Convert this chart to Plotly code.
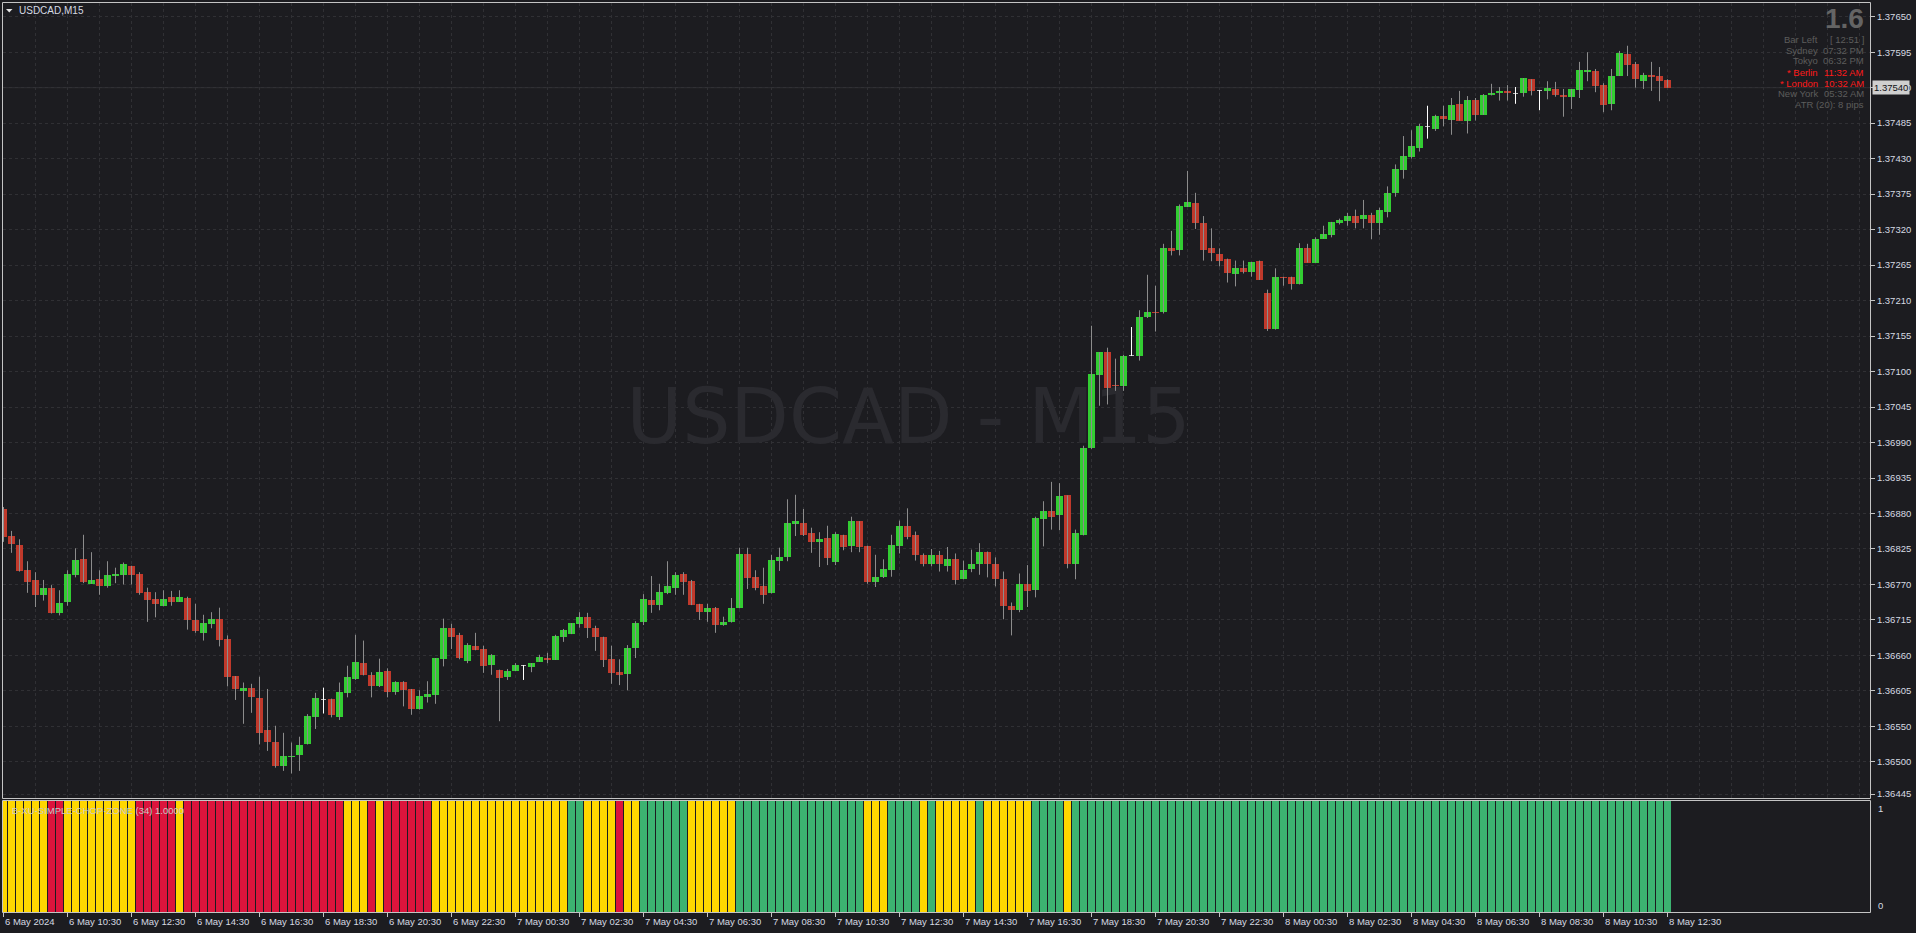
import plotly.graph_objects as go

W, H = 1916, 933
BG = "#1c1c20"
GRID = "#303034"
FRAME = "#c4c4c4"
TXT = "#d6dae2"
FONT = "Liberation Sans"

# ---------------- data (USDCAD M15, 6 May 08:30 -> 8 May 12:30) ----------------
opens = [
 1.36887,1.36845,1.36831,1.36792,1.36777,1.36754,1.36764,1.36725,1.36743,1.36784,
 1.36809,1.36771,1.36778,1.36767,1.36783,1.36785,1.36799,1.36786,1.36758,1.36747,
 1.36737,1.36751,1.36743,1.36749,1.36715,1.36695,1.36708,1.36716,1.36685,1.36628,
 1.36605,1.36610,1.36594,1.36544,1.36526,1.36489,1.36502,1.36505,1.36523,1.36565,
 1.36592,1.36592,1.36565,1.36602,1.36624,1.36648,1.36630,1.36612,1.36636,1.36604,
 1.36619,1.36608,1.36577,1.36596,1.36599,1.36655,1.36703,1.36692,1.36651,1.36675,
 1.36670,1.36645,1.36637,1.36627,1.36636,1.36644,1.36642,1.36650,1.36656,1.36653,
 1.36689,1.36693,1.36709,1.36720,1.36703,1.36689,1.36654,1.36634,1.36631,1.36672,
 1.36712,1.36746,1.36738,1.36757,1.36765,1.36786,1.36775,1.36740,1.36727,1.36734,
 1.36707,1.36712,1.36734,1.36817,1.36782,1.36768,1.36757,1.36806,1.36813,1.36864,
 1.36865,1.36850,1.36836,1.36842,1.36805,1.36847,1.36830,1.36868,1.36830,1.36774,
 1.36781,1.36793,1.36830,1.36860,1.36846,1.36815,1.36802,1.36815,1.36799,1.36809,
 1.36778,1.36794,1.36801,1.36821,1.36801,1.36778,1.36736,1.36731,1.36770,1.36761,
 1.36872,1.36884,1.36877,1.36908,1.36801,1.36847,1.36981,1.37094,1.37130,1.37079,
 1.37077,1.37125,1.37124,1.37184,1.37192,1.37192,1.37292,1.37288,1.37355,1.37361,
 1.37330,1.37291,1.37282,1.37275,1.37251,1.37260,1.37254,1.37271,1.37222,1.37166,
 1.37247,1.37247,1.37235,1.37291,1.37269,1.37306,1.37311,1.37331,1.37334,1.37341,
 1.37336,1.37343,1.37331,1.37348,1.37376,1.37413,1.37433,1.37447,1.37480,1.37476,
 1.37496,1.37490,1.37515,1.37489,1.37521,1.37498,1.37528,1.37531,1.37535,1.37531,
 1.37531,1.37553,1.37536,1.37535,1.37538,1.37529,1.37526,1.37536,1.37564,1.37566,
 1.37544,1.37515,1.37558,1.37592,1.37577,1.37550,1.37560,1.37558,1.37552,
]
highs = [
 1.36890,1.36853,1.36840,1.36806,1.36789,1.36777,1.36769,1.36761,1.36792,1.36826,
 1.36847,1.36820,1.36792,1.36806,1.36796,1.36804,1.36799,1.36789,1.36765,1.36758,
 1.36761,1.36760,1.36761,1.36751,1.36740,1.36723,1.36727,1.36734,1.36691,1.36628,
 1.36618,1.36616,1.36627,1.36608,1.36551,1.36540,1.36525,1.36534,1.36569,1.36602,
 1.36610,1.36593,1.36618,1.36644,1.36692,1.36683,1.36634,1.36655,1.36640,1.36620,
 1.36620,1.36608,1.36606,1.36620,1.36656,1.36717,1.36709,1.36695,1.36679,1.36695,
 1.36675,1.36662,1.36638,1.36639,1.36648,1.36645,1.36648,1.36661,1.36664,1.36692,
 1.36701,1.36710,1.36727,1.36726,1.36706,1.36689,1.36675,1.36654,1.36676,1.36713,
 1.36755,1.36783,1.36771,1.36806,1.36789,1.36789,1.36777,1.36740,1.36740,1.36735,
 1.36720,1.36749,1.36827,1.36827,1.36792,1.36796,1.36816,1.36827,1.36902,1.36909,
 1.36887,1.36858,1.36851,1.36861,1.36851,1.36847,1.36875,1.36868,1.36830,1.36816,
 1.36809,1.36847,1.36869,1.36888,1.36852,1.36818,1.36825,1.36822,1.36828,1.36818,
 1.36807,1.36824,1.36834,1.36821,1.36812,1.36790,1.36742,1.36787,1.36800,1.36875,
 1.36899,1.36929,1.36927,1.36908,1.36855,1.36985,1.37171,1.37130,1.37137,1.37120,
 1.37126,1.37169,1.37195,1.37250,1.37233,1.37298,1.37318,1.37359,1.37411,1.37377,
 1.37341,1.37322,1.37291,1.37275,1.37272,1.37272,1.37270,1.37272,1.37227,1.37260,
 1.37247,1.37247,1.37299,1.37298,1.37308,1.37326,1.37332,1.37337,1.37346,1.37351,
 1.37366,1.37346,1.37354,1.37387,1.37421,1.37465,1.37474,1.37484,1.37512,1.37498,
 1.37512,1.37524,1.37535,1.37527,1.37524,1.37530,1.37546,1.37541,1.37544,1.37541,
 1.37555,1.37553,1.37536,1.37550,1.37549,1.37538,1.37538,1.37580,1.37595,1.37569,
 1.37547,1.37569,1.37597,1.37605,1.37580,1.37563,1.37580,1.37572,1.37553,
]
lows = [
 1.36836,1.36819,1.36790,1.36757,1.36735,1.36745,1.36725,1.36722,1.36737,1.36781,
 1.36772,1.36771,1.36754,1.36765,1.36772,1.36770,1.36770,1.36754,1.36712,1.36719,
 1.36736,1.36737,1.36743,1.36700,1.36695,1.36683,1.36702,1.36674,1.36612,1.36591,
 1.36554,1.36571,1.36522,1.36512,1.36486,1.36481,1.36477,1.36481,1.36522,1.36546,
 1.36570,1.36564,1.36560,1.36595,1.36622,1.36629,1.36595,1.36611,1.36595,1.36599,
 1.36581,1.36568,1.36576,1.36587,1.36585,1.36643,1.36670,1.36654,1.36648,1.36668,
 1.36633,1.36630,1.36558,1.36622,1.36636,1.36622,1.36634,1.36650,1.36648,1.36653,
 1.36681,1.36693,1.36703,1.36687,1.36667,1.36642,1.36616,1.36614,1.36606,1.36656,
 1.36707,1.36726,1.36730,1.36755,1.36754,1.36754,1.36738,1.36715,1.36712,1.36695,
 1.36706,1.36711,1.36733,1.36763,1.36761,1.36740,1.36756,1.36791,1.36806,1.36845,
 1.36845,1.36819,1.36797,1.36800,1.36800,1.36823,1.36820,1.36820,1.36771,1.36766,
 1.36780,1.36782,1.36818,1.36840,1.36807,1.36798,1.36798,1.36790,1.36790,1.36770,
 1.36778,1.36789,1.36785,1.36781,1.36767,1.36716,1.36691,1.36727,1.36735,1.36750,
 1.36829,1.36855,1.36854,1.36795,1.36778,1.36846,1.36980,1.37047,1.37049,1.37070,
 1.37070,1.37124,1.37117,1.37183,1.37162,1.37190,1.37280,1.37280,1.37355,1.37321,
 1.37272,1.37271,1.37263,1.37238,1.37232,1.37252,1.37247,1.37242,1.37163,1.37165,
 1.37233,1.37227,1.37235,1.37269,1.37269,1.37306,1.37308,1.37328,1.37326,1.37322,
 1.37322,1.37305,1.37312,1.37339,1.37371,1.37399,1.37430,1.37441,1.37461,1.37473,
 1.37480,1.37467,1.37489,1.37469,1.37489,1.37498,1.37528,1.37520,1.37520,1.37515,
 1.37526,1.37528,1.37505,1.37522,1.37526,1.37495,1.37507,1.37524,1.37550,1.37533,
 1.37502,1.37505,1.37558,1.37558,1.37540,1.37538,1.37535,1.37519,1.37540,
]
closes = [
 1.36844,1.36833,1.36791,1.36774,1.36754,1.36764,1.36726,1.36741,1.36786,1.36808,
 1.36774,1.36777,1.36767,1.36785,1.36786,1.36802,1.36785,1.36757,1.36746,1.36739,
 1.36747,1.36743,1.36751,1.36715,1.36698,1.36710,1.36716,1.36684,1.36626,1.36608,
 1.36610,1.36595,1.36540,1.36526,1.36489,1.36504,1.36504,1.36521,1.36566,1.36594,
 1.36592,1.36567,1.36603,1.36627,1.36650,1.36630,1.36613,1.36634,1.36604,1.36619,
 1.36607,1.36577,1.36597,1.36600,1.36656,1.36703,1.36689,1.36656,1.36676,1.36668,
 1.36644,1.36661,1.36625,1.36636,1.36645,1.36644,1.36648,1.36658,1.36653,1.36690,
 1.36699,1.36710,1.36720,1.36703,1.36689,1.36653,1.36633,1.36630,1.36672,1.36710,
 1.36747,1.36738,1.36758,1.36768,1.36785,1.36774,1.36738,1.36727,1.36734,1.36707,
 1.36712,1.36734,1.36817,1.36780,1.36765,1.36754,1.36808,1.36813,1.36865,1.36868,
 1.36847,1.36836,1.36840,1.36811,1.36848,1.36828,1.36868,1.36828,1.36774,1.36782,
 1.36794,1.36831,1.36860,1.36843,1.36815,1.36801,1.36815,1.36801,1.36809,1.36777,
 1.36792,1.36802,1.36821,1.36802,1.36778,1.36736,1.36730,1.36770,1.36760,1.36873,
 1.36884,1.36875,1.36907,1.36802,1.36849,1.36982,1.37096,1.37130,1.37074,1.37077,
 1.37124,1.37125,1.37185,1.37193,1.37190,1.37291,1.37287,1.37357,1.37363,1.37330,
 1.37289,1.37283,1.37272,1.37252,1.37260,1.37254,1.37270,1.37242,1.37166,1.37247,
 1.37245,1.37235,1.37291,1.37269,1.37306,1.37313,1.37332,1.37335,1.37341,1.37331,
 1.37343,1.37331,1.37350,1.37377,1.37414,1.37434,1.37450,1.37481,1.37480,1.37496,
 1.37491,1.37513,1.37489,1.37521,1.37498,1.37529,1.37532,1.37535,1.37531,1.37531,
 1.37555,1.37535,1.37536,1.37540,1.37529,1.37526,1.37538,1.37567,1.37567,1.37543,
 1.37513,1.37558,1.37594,1.37575,1.37553,1.37560,1.37557,1.37550,1.37540,
]

# Chop-zone state per bar: Y = chop (yellow), R = down trend, G = up trend
chop_zone = (
    "YYYYYYRRYY" "YYYYYYYRRR" "RRYRRRRRRR" "RRRRRRRRRR" "RRRYYYRYRR"
    "RRRRYYYYYY" "YYYYYYYYYY" "YGGYYYYRYY" "GGGGGGYYYY" "YYGGGGGGGG"
    "GGGGGGGGYY" "YGGGGYGYYY" "YYGYYYYYYG" "GGGYGGGGGG" "GGGGGGGGGG"
    "GGGGGGGGGG" "GGGGGGGGGG" "GGGGGGGGGG" "GGGGGGGGGG" "GGGGGGGGGG"
    "GGGGGGGGG"
)

x_tick_bars = [0, 8, 16, 24, 32, 40, 48, 56, 64, 72, 80, 88, 96, 104, 112,
               120, 128, 136, 144, 152, 160, 168, 176, 184, 192, 200, 208]
x_tick_labels = ["6 May 2024", "6 May 10:30", "6 May 12:30", "6 May 14:30", "6 May 16:30",
                 "6 May 18:30", "6 May 20:30", "6 May 22:30", "7 May 00:30", "7 May 02:30",
                 "7 May 04:30", "7 May 06:30", "7 May 08:30", "7 May 10:30", "7 May 12:30",
                 "7 May 14:30", "7 May 16:30", "7 May 18:30", "7 May 20:30", "7 May 22:30",
                 "8 May 00:30", "8 May 02:30", "8 May 04:30", "8 May 06:30", "8 May 08:30",
                 "8 May 10:30", "8 May 12:30"]

y_tick_vals = [1.37650, 1.37595, 1.37540, 1.37485, 1.37430, 1.37375, 1.37320, 1.37265,
               1.37210, 1.37155, 1.37100, 1.37045, 1.36990, 1.36935, 1.36880, 1.36825,
               1.36770, 1.36715, 1.36660, 1.36605, 1.36550, 1.36495, 1.36445]
y_tick_text = ["1.37650", "1.37595", "1.37540", "1.37485", "1.37430", "1.37375", "1.37320",
               "1.37265", "1.37210", "1.37155", "1.37100", "1.37045", "1.36990", "1.36935",
               "1.36880", "1.36825", "1.36770", "1.36715", "1.36660", "1.36605", "1.36550",
               "1.36500", "1.36445"]

info_labels = ["Bar Left", "Sydney", "Tokyo", "* Berlin", "* London", "New York"]
info_values = ["[ 12:51 ]", "07:32 PM", "06:32 PM", "11:32 AM", "10:32 AM", "05:32 AM"]
info_active = [False, False, False, True, True, False]
atr_text = "ATR (20): 8 pips"
spread_text = "1.6"
indicator_name = "B-XU-SIMPLE-CHOP-ZONE (34) 1.0000"
symbol_title = "USDCAD,M15"
watermark = "USDCAD - M15"

# ---------------- geometry (pixels) ----------------
PX_L, PX_R = 3, 1870
MAIN_T, MAIN_B = 3, 798
IND_T, IND_B = 801, 912
x_range = [-0.0625, 233.3125]
y_range = [1.36439, 1.3767125]

def pxx(px):
    return px / W

def pxy(py):
    return 1 - py / H

def data_x(px):
    return x_range[0] + (px - PX_L) / (PX_R - PX_L) * (x_range[1] - x_range[0])

def data_y(py):
    return y_range[1] - (py - MAIN_T) / (MAIN_B - MAIN_T) * (y_range[1] - y_range[0])

UP, DOWN = "#32cd32", "#c0392b"
WICK, DOJI = "#8c8c8c", "#ffffff"
MIN_BODY = 0.000016
CHOP_COL = {"Y": "#ffd700", "R": "#dc143c", "G": "#3cb371"}

n = len(opens)
assert n == len(highs) == len(lows) == len(closes) == len(chop_zone) == 209
xs = list(range(n))

fig = go.Figure()

# watermark (behind candles)
fig.add_trace(go.Scatter(
    x=[data_x(908.5)], y=[data_y(424)], mode="text", text=[watermark],
    textfont=dict(family="DejaVu Sans", size=76, color="#2a2a2f"),
    textposition="middle center", hoverinfo="skip", showlegend=False,
    xaxis="x", yaxis="y"))

# wicks
wx, wy, dx, dy = [], [], [], []
for i in xs:
    if opens[i] == closes[i]:
        dx += [i, i, None]
        dy += [lows[i], highs[i], None]
    else:
        wx += [i, i, None]
        wy += [lows[i], highs[i], None]
fig.add_trace(go.Scatter(x=wx, y=wy, mode="lines", line=dict(color=WICK, width=1),
                         hoverinfo="skip", showlegend=False))
fig.add_trace(go.Scatter(x=dx, y=dy, mode="lines", line=dict(color=DOJI, width=1),
                         hoverinfo="skip", showlegend=False))

# bodies
bx, bbase, bh, bcol = [], [], [], []
jx, jbase, jh = [], [], []
for i in xs:
    o, c = opens[i], closes[i]
    if o == c:
        jx.append(i)
        jbase.append(o - MIN_BODY / 2)
        jh.append(MIN_BODY)
        continue
    lo = min(o, c)
    hgt = abs(c - o)
    if hgt < MIN_BODY:
        hgt = MIN_BODY
    bx.append(i)
    bbase.append(lo)
    bh.append(hgt)
    bcol.append(UP if c > o else DOWN)
fig.add_trace(go.Bar(x=bx, y=bh, base=bbase, width=0.875, marker=dict(color=bcol, line=dict(width=0)),
                     hoverinfo="skip", showlegend=False))
fig.add_trace(go.Bar(x=jx, y=jh, base=jbase, width=0.7, marker=dict(color="#b8b8b8", line=dict(width=0)),
                     hoverinfo="skip", showlegend=False))

# indicator histogram
fig.add_trace(go.Bar(x=xs, y=[1] * n, width=0.875,
                     marker=dict(color=[CHOP_COL[s] for s in chop_zone], line=dict(width=0)),
                     xaxis="x2", yaxis="y2", hoverinfo="skip", showlegend=False))

grid = dict(showgrid=True, gridcolor=GRID, gridwidth=1, griddash="3px,3px")

fig.update_layout(
    width=W, height=H, margin=dict(l=0, r=0, t=0, b=0),
    paper_bgcolor=BG, plot_bgcolor=BG, barmode="overlay", bargap=0,
    font=dict(family=FONT, size=10, color=TXT),
    xaxis=dict(domain=[pxx(PX_L), pxx(PX_R)], range=x_range, anchor="y",
               tickvals=list(range(0, 234, 4)), showticklabels=False, ticks="",
               zeroline=False, showline=False, **grid),
    yaxis=dict(domain=[pxy(MAIN_B), pxy(MAIN_T)], range=y_range, side="right", anchor="x",
               tickvals=y_tick_vals, ticktext=y_tick_text, ticks="outside", ticklen=4,
               tickcolor=FRAME, tickfont=dict(family=FONT, size=9.5, color=TXT),
               zeroline=False, showline=False, **grid),
    xaxis2=dict(domain=[pxx(PX_L), pxx(PX_R)], range=x_range, anchor="y2",
                tickvals=x_tick_bars, showticklabels=False, ticks="outside", ticklen=4,
                tickcolor=FRAME, showgrid=False, zeroline=False, showline=False),
    yaxis2=dict(domain=[pxy(IND_B), pxy(IND_T)], range=[0, 1], anchor="x2",
                showticklabels=False, showgrid=False, zeroline=False, ticks=""),
)

shapes = []
def rect(x0, y0, x1, y1):
    shapes.append(dict(type="rect", xref="paper", yref="paper",
                       x0=pxx(x0), x1=pxx(x1), y0=pxy(y1), y1=pxy(y0),
                       line=dict(color=FRAME, width=1), fillcolor="rgba(0,0,0,0)", layer="above"))
rect(2.5, 2.5, 1870.5, 798.5)
rect(2.5, 800.5, 1870.5, 912.5)
# current price line
shapes.append(dict(type="line", xref="paper", yref="y", x0=pxx(PX_L), x1=pxx(PX_R),
                   y0=closes[-1], y1=closes[-1], line=dict(color="#2f2f33", width=1), layer="below"))
# symbol menu triangle
shapes.append(dict(type="path", xref="paper", yref="paper",
                   path="M %f %f L %f %f L %f %f Z" % (pxx(6), pxy(9), pxx(12.5), pxy(9), pxx(9.25), pxy(12.5)),
                   fillcolor="#e6e6e6", line=dict(width=0)))
fig.update_layout(shapes=shapes)

ann = []
def text(x, y, s, color=TXT, size=9.5, anchor="left", bold=False, **kw):
    d = dict(xref="paper", yref="paper", x=pxx(x), y=pxy(y), text=("<b>%s</b>" % s) if bold else s,
             showarrow=False, xanchor=anchor, yanchor="middle",
             font=dict(family=FONT, size=size, color=color))
    d.update(kw)
    ann.append(d)

text(17, 10.5, symbol_title, color=TXT, size=10)

# info panel
text(1866, 19, spread_text, color="#646464", size=28, anchor="right", bold=True)
for k, (lab, val, act) in enumerate(zip(info_labels, info_values, info_active)):
    col = "#ff1a1a" if act else "#5c5c5c"
    yy = 39 + 11 * k
    text(1819.5, yy, lab, color=col, size=9.5, anchor="right")
    text(1866, yy, val, color=col, size=9.5, anchor="right")
text(1866, 105, atr_text, color="#5c5c5c", size=9.5, anchor="right")

# last price box
ann.append(dict(xref="paper", yref="y", x=pxx(1872), y=closes[-1], text="%.5f" % closes[-1],
                showarrow=False, xanchor="left", yanchor="middle", bgcolor="#cfcfcf",
                borderpad=1, font=dict(family=FONT, size=9.5, color="#101014")))

# indicator captions
text(10, 810, indicator_name, color="#c8c8c8", size=9.5)
text(1876, 808, "1", color=TXT, size=9.5)
text(1876, 905, "0", color=TXT, size=9.5)

# time labels
for b, lab in zip(x_tick_bars, x_tick_labels):
    ann.append(dict(xref="x2", yref="paper", x=b - 0.06, y=pxy(921.5), text=lab, showarrow=False,
                    xanchor="left", yanchor="middle", font=dict(family=FONT, size=9.5, color=TXT)))

fig.update_layout(annotations=ann)

fig.write_html("out.html", config={"displayModeBar": False, "staticPlot": True},
               post_script="document.body.style.margin='0';document.body.style.overflow='hidden';")
